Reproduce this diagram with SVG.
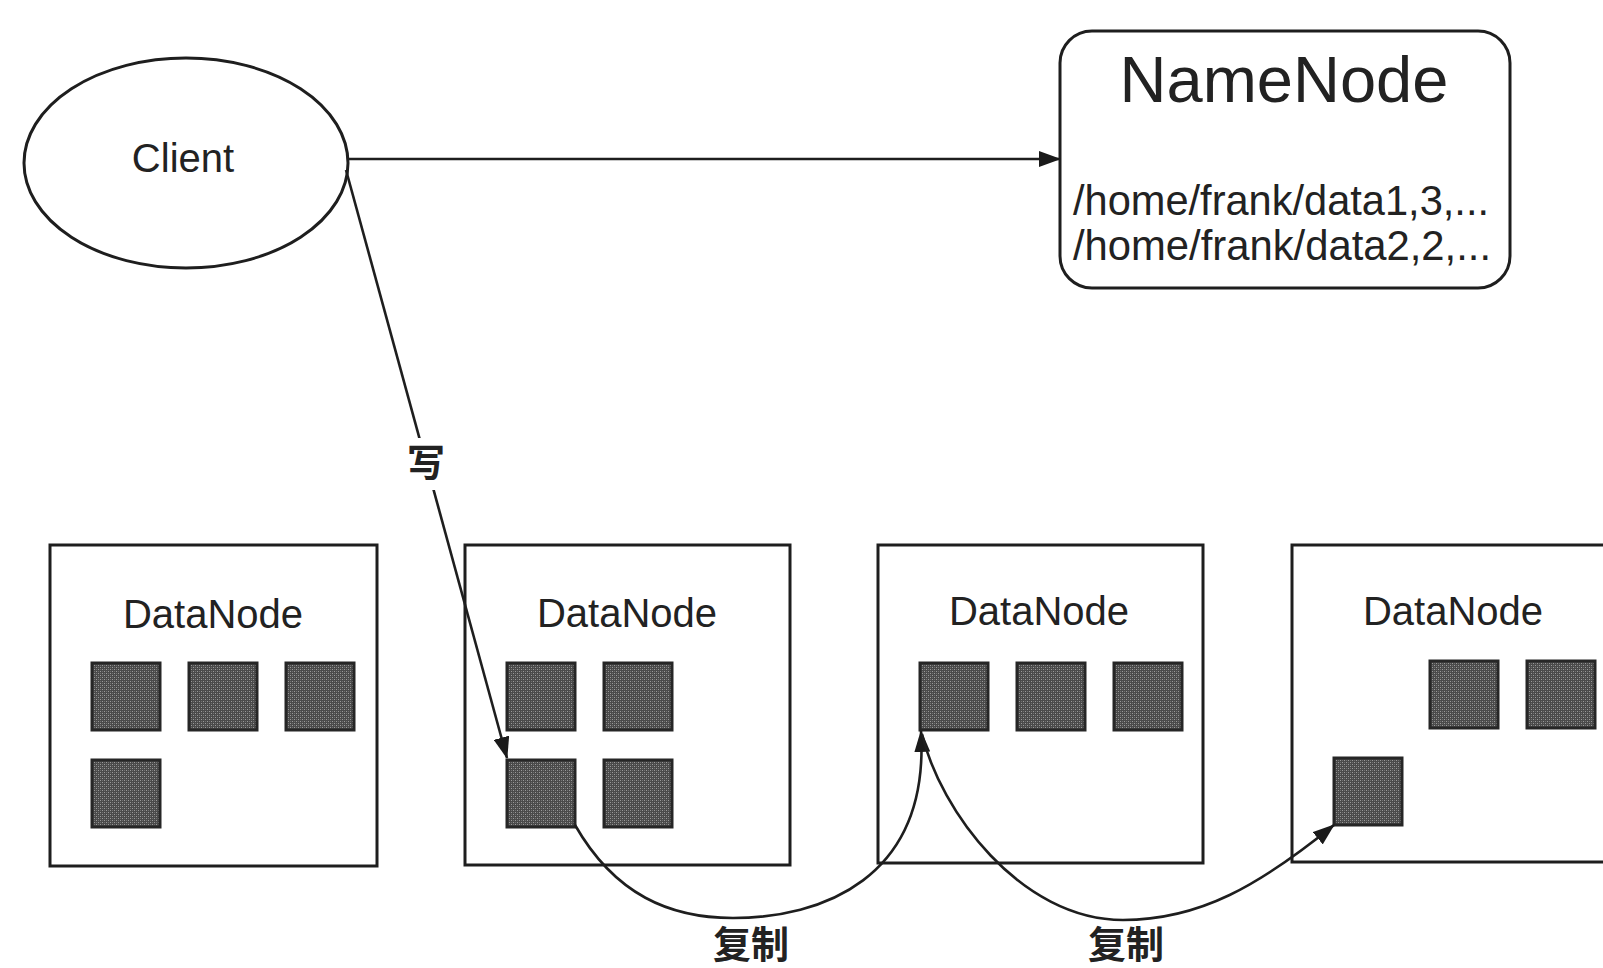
<svg xmlns="http://www.w3.org/2000/svg" width="1603" height="968" viewBox="0 0 1603 968">
<style>
.lat{font-family:"Liberation Sans",Arial,sans-serif;fill:#222}
.cjk{font-family:"Noto Sans CJK SC","Noto Sans CJK JP",sans-serif;font-weight:700;fill:#222;font-size:38px}
.box{fill:#fff;stroke:#1e1e1e;stroke-width:3}
.blk{fill:url(#dither);stroke:#262626;stroke-width:3}
.con{fill:none;stroke:#1e1e1e;stroke-width:2.6}
.dn{font-size:40px;text-anchor:middle}
</style>
<defs>
<pattern id="dither" width="4" height="4" patternUnits="userSpaceOnUse">
<rect width="4" height="4" fill="#4a4a4a"/>
<rect x="0" y="0" width="1" height="1" fill="#9a9a9a"/>
<rect x="2" y="2" width="1" height="1" fill="#9a9a9a"/>
<rect x="2" y="0" width="1" height="1" fill="#707070"/>
<rect x="0" y="2" width="1" height="1" fill="#707070"/>
</pattern>
<marker id="arr" markerUnits="userSpaceOnUse" viewBox="0 0 22 16" markerWidth="22" markerHeight="16" refX="21" refY="8" orient="auto">
<path d="M0,0 L22,8 L0,16 z" fill="#1a1a1a"/>
</marker>
<g id="blk"><rect class="blk" width="68" height="67"/></g>
</defs>
<rect width="1603" height="968" fill="#fff"/>

<g id="client">
<ellipse cx="186" cy="163" rx="162" ry="105" class="box"/>
<text class="lat" x="183" y="172" font-size="40" text-anchor="middle">Client</text>
</g>

<g id="namenode">
<rect x="1060" y="31" width="450" height="257" rx="32" class="box"/>
<text class="lat" x="1284" y="102" font-size="65" text-anchor="middle">NameNode</text>
<text class="lat" x="1073" y="215" font-size="42" textLength="416" lengthAdjust="spacingAndGlyphs">/home/frank/data1,3,...</text>
<text class="lat" x="1073" y="260" font-size="42" textLength="418" lengthAdjust="spacingAndGlyphs">/home/frank/data2,2,...</text>
</g>

<g id="datanode1">
<rect x="50" y="545" width="327" height="321" class="box"/>
<text class="lat dn" x="213" y="628">DataNode</text>
<use href="#blk" x="92" y="663"/>
<use href="#blk" x="189" y="663"/>
<use href="#blk" x="286" y="663"/>
<use href="#blk" x="92" y="760"/>
</g>

<g id="datanode2">
<rect x="465" y="545" width="325" height="320" class="box"/>
<text class="lat dn" x="627" y="627">DataNode</text>
<use href="#blk" x="507" y="663"/>
<use href="#blk" x="604" y="663"/>
<use href="#blk" x="507" y="760"/>
<use href="#blk" x="604" y="760"/>
</g>

<g id="datanode3">
<rect x="878" y="545" width="325" height="318" class="box"/>
<text class="lat dn" x="1039" y="625">DataNode</text>
<use href="#blk" x="920" y="663"/>
<use href="#blk" x="1017" y="663"/>
<use href="#blk" x="1114" y="663"/>
</g>

<g id="datanode4">
<rect x="1292" y="545" width="330" height="317" class="box"/>
<text class="lat dn" x="1453" y="625">DataNode</text>
<use href="#blk" x="1430" y="661"/>
<use href="#blk" x="1527" y="661"/>
<use href="#blk" x="1334" y="758"/>
</g>

<g id="connectors">
<line class="con" x1="348" y1="159" x2="1060" y2="159" marker-end="url(#arr)"/>
<line class="con" x1="346" y1="170" x2="507" y2="758" marker-end="url(#arr)"/>
<rect x="410" y="438" width="34" height="52" fill="#fff"/>
<text class="cjk" x="426" y="476" text-anchor="middle">写</text>
<path class="con" d="M575,825 C615,895 670,918 733,918 C820,918 930,880 921,731" marker-end="url(#arr)"/>
<path class="con" d="M922,734 C940,810 1020,920 1123,920 C1200,920 1260,885 1334,825" marker-end="url(#arr)"/>
<text class="cjk" x="751" y="958" text-anchor="middle">复制</text>
<text class="cjk" x="1126" y="958" text-anchor="middle">复制</text>
</g>
</svg>
